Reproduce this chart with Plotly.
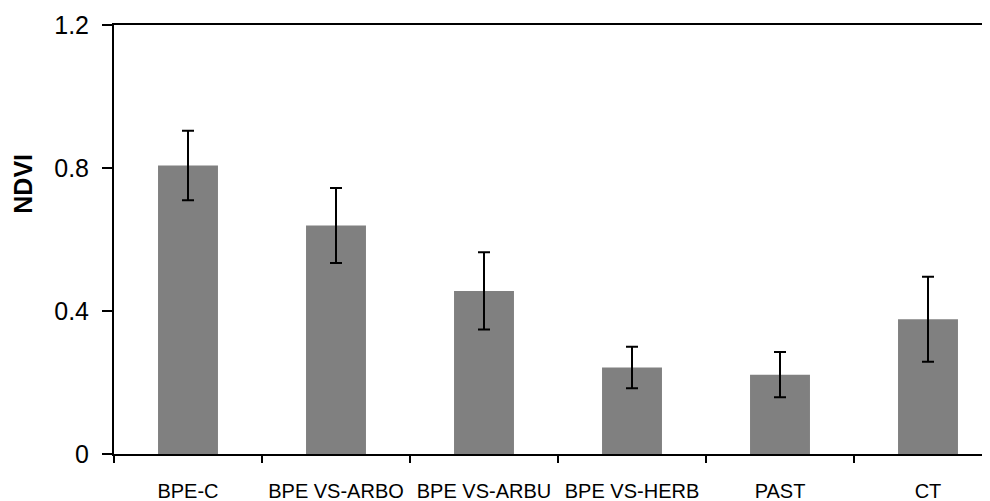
import plotly.graph_objects as go

categories = ["BPE-C", "BPE VS-ARBO", "BPE VS-ARBU", "BPE VS-HERB", "PAST", "CT"]
ndvi_mean = [0.807, 0.639, 0.456, 0.242, 0.222, 0.377]
ndvi_err = [0.097, 0.105, 0.108, 0.058, 0.063, 0.119]
y_ticks = [0, 0.4, 0.8, 1.2]
y_tick_labels = ["0", "0.4", "0.8", "1.2"]

FONT = "Liberation Sans Narrow, Arial Narrow, Liberation Sans, Arial, sans-serif"

fig = go.Figure()
fig.add_trace(go.Bar(
    x=categories,
    y=ndvi_mean,
    width=0.405,
    marker=dict(color="#808080", line=dict(width=0)),
    error_y=dict(type="data", array=ndvi_err, visible=True,
                 color="black", thickness=2, width=6),
))

fig.update_layout(
    width=990, height=501,
    margin=dict(l=106, r=0, t=17, b=55),
    plot_bgcolor="white", paper_bgcolor="white",
    showlegend=False,
    font=dict(family=FONT, color="black"),
    xaxis=dict(
        type="category",
        range=[-0.5, 5.473],
        automargin=False,
        tickangle=0,
        showline=True, linecolor="black", linewidth=2,
        mirror=True,
        ticks="outside", tickson="boundaries", ticklen=7, tickwidth=2, tickcolor="black",
        tickfont=dict(family=FONT, size=20, color="black"),
        showgrid=False, zeroline=False,
        ticklabelstandoff=18,
    ),
    yaxis=dict(
        range=[0, 1.2],
        automargin=False,
        tickvals=y_ticks, ticktext=y_tick_labels,
        showline=True, linecolor="black", linewidth=2,
        ticks="outside", ticklen=10, tickwidth=2, tickcolor="black",
        tickfont=dict(family=FONT, size=25, color="black"),
        showgrid=False, zeroline=False,
        ticklabelstandoff=8,
    ),
    annotations=[dict(
        text="<b>NDVI</b>", textangle=-90,
        xref="paper", yref="paper", x=0, y=0.63,
        xanchor="center", yanchor="middle",
        xshift=-91, showarrow=False,
        font=dict(family=FONT, size=25, color="black"),
    )],
)

fig.write_html("out.html")
